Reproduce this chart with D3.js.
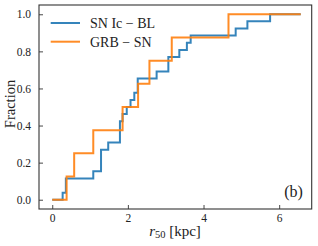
<!DOCTYPE html>
<html><head><meta charset="utf-8">
<script src="https://cdn.jsdelivr.net/npm/d3@7"></script>
<style>
body{margin:0;background:#fff;}
svg text{font-family:"Liberation Serif","DejaVu Serif",serif;fill:#222;}
</style></head>
<body><svg id="c" width="318" height="246"></svg>
<script>
// Step positions (r50 in kpc) and cumulative fractions
const snX = [0, 0.275, 0.36, 1.085, 1.29, 1.48, 1.79, 1.86, 1.97, 2.07, 2.17, 2.26, 2.76, 3.07, 3.36, 3.56, 3.66, 4.85, 5.16, 5.76, 6.57];
const snY = [0, 0.038, 0.115, 0.154, 0.269, 0.308, 0.423, 0.462, 0.5, 0.538, 0.577, 0.654, 0.692, 0.769, 0.808, 0.846, 0.885, 0.923, 0.962, 1.0, 1.0];
const grbX = [0, 0.38, 0.58, 1.085, 1.86, 2.27, 2.57, 3.16, 4.66, 6.57];
const grbY = [0, 0.125, 0.25, 0.375, 0.5, 0.625, 0.75, 0.875, 1.0, 1.0];
const seriesNames = ["SN Ic \u2212 BL", "GRB \u2212 SN"];
const seriesColors = ["#1f77b4", "#ff7f0e"];
const xTicks = [0, 2, 4, 6];
const yTicks = [0, 0.2, 0.4, 0.6, 0.8, 1.0];

const svg = d3.select("#c");
const L = 39, R = 311.7, T = 5, B = 209;
const x = d3.scaleLinear().domain([-0.35, 6.86]).range([L, R]);
const y = d3.scaleLinear().domain([-0.05, 1.05]).range([B, T]);

const line = d3.line().x(d => x(d[0])).y(d => y(d[1])).curve(d3.curveStepAfter);
const series = [d3.zip(snX, snY), d3.zip(grbX, grbY)];
series.forEach((s, i) => {
  svg.append("path").datum(s).attr("d", line).attr("fill", "none")
    .attr("stroke", seriesColors[i]).attr("stroke-width", 2).attr("stroke-opacity", 0.9);
});

// axes (ticks inward)
const xa = svg.append("g").attr("transform", `translate(0,${B})`)
  .call(d3.axisBottom(x).tickValues(xTicks).tickFormat(d3.format("d")).tickSizeInner(-4).tickSizeOuter(0).tickPadding(5));
const ya = svg.append("g").attr("transform", `translate(${L},0)`)
  .call(d3.axisLeft(y).tickValues(yTicks).tickFormat(d3.format(".1f")).tickSizeInner(-4).tickSizeOuter(0).tickPadding(8));
[xa, ya].forEach(g => {
  g.select(".domain").remove();
  g.selectAll("line").attr("stroke", "#333").attr("stroke-width", 0.9);
  g.selectAll("text").attr("font-size", 11.5).attr("font-family", "Liberation Serif").attr("fill", "#222");
});
svg.append("rect").attr("x", L).attr("y", T).attr("width", R - L).attr("height", B - T)
  .attr("fill", "none").attr("stroke", "#333").attr("stroke-width", 1.1);

// legend
seriesNames.forEach((n, i) => {
  const yy = 23 + i * 18.7;
  svg.append("line").attr("x1", 50.7).attr("x2", 80).attr("y1", yy).attr("y2", yy)
    .attr("stroke", seriesColors[i]).attr("stroke-width", 2).attr("stroke-opacity", 0.9);
  svg.append("text").attr("x", 90).attr("y", yy).attr("dy", "0.35em").attr("font-size", 14).text(n);
});

// labels
const xl = svg.append("text").attr("x", 175).attr("y", 236).attr("text-anchor", "middle").attr("font-size", 15);
xl.append("tspan").attr("font-style", "italic").text("r");
xl.append("tspan").attr("font-size", 10.5).attr("dy", 2).text("50");
xl.append("tspan").attr("dy", -2).text(" [kpc]");

svg.append("text").attr("transform", "translate(15,104) rotate(-90)").attr("text-anchor", "middle")
  .attr("font-size", 14.5).text("Fraction");

svg.append("text").attr("x", 293.5).attr("y", 191.7).attr("dy", "0.35em").attr("text-anchor", "middle")
  .attr("font-size", 16).text("(b)");
</script></body></html>
